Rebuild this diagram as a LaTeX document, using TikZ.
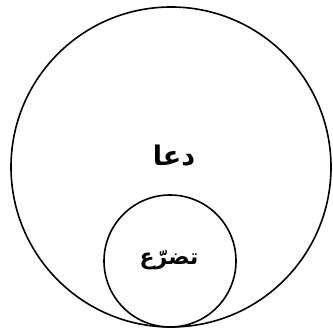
\documentclass[tikz,border=0pt]{standalone}
\usepackage{fontspec}
\newfontfamily\arabicfont[Script=Arabic]{DejaVu Sans}
\TeXXeTstate=1
\begin{document}
\begin{tikzpicture}[x=1pt, y=1pt, >=latex]
			      \useasboundingbox (0,0) rectangle (332,334);
			      \node[draw, circle, line width=1.6pt, minimum size=320pt, inner sep=0pt] (dua) at (171,167) {};
			      \node[draw, circle, line width=1.6pt, minimum size=132pt, inner sep=0pt] (tadarru) at (170,73) {};
			      \node[font=\arabicfont\bfseries\fontsize{27}{30}\selectfont] (duatxt) at (174,178) {\beginR دعا\endR};
			      \node[font=\arabicfont\bfseries\fontsize{22}{26}\selectfont] (tadarrutxt) at (169,74) {\beginR تضرّع\endR};
		      \end{tikzpicture}
\end{document}
